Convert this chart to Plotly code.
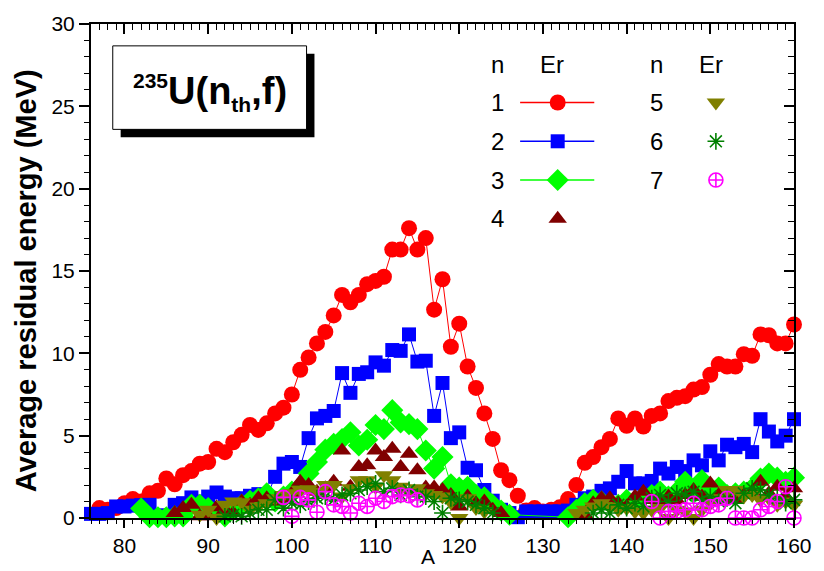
import plotly.graph_objects as go

# ---------------- data ----------------
A1 = list(range(77, 161))
E1 = [0.6, 0.5, 0.6, 0.9, 1.15, 1.0, 1.5, 1.65, 2.4, 2.05,
      2.6, 2.85, 3.3, 3.4, 4.2, 4.0, 4.6, 5.05, 5.65, 5.35,
      5.75, 6.35, 6.7, 7.5, 9.0, 9.75, 10.6, 11.3, 12.3, 13.55,
      13.1, 13.55, 14.2, 14.4, 14.65, 16.3, 16.3, 17.6, 16.3, 17.0,
      12.65, 14.5, 10.4, 11.8, 9.2, 7.9, 6.35, 4.8, 2.9, 2.3,
      1.35, 0.45, 0.6, 0.4, 0.5, 0.65, 1.15, 2.0, 3.35, 3.7,
      4.3, 4.8, 6.05, 5.6, 6.05, 5.55, 6.2, 6.35, 7.1, 7.3,
      7.4, 7.8, 7.95, 8.7, 9.35, 9.2, 9.2, 9.95, 9.85, 11.15,
      11.1, 10.6, 10.6, 11.75]

A2 = list(range(76, 161))
E2 = [0.25, 0.25, 0.3, 0.7, 0.7, 0.75, 0.78, 0.8, 0.15, 0.15,
      0.8, 0.9, 1.25, 1.0, 1.3, 1.55, 1.3, 1.2, 1.2, 1.35,
      1.45, 1.3, 2.5, 3.3, 3.4, 3.1, 4.85, 6.05, 6.2, 6.5,
      8.8, 7.6, 8.75, 8.85, 9.45, 9.25, 10.2, 10.15, 11.15, 9.5,
      9.55, 6.2, 8.2, 4.85, 5.2, 3.05, 2.9, 1.7, 1.05, 0.5,
      0.3, 0.05, 0.4, 0.4, 0.4, 0.4, 0.4, 0.45, 0.8, 1.2,
      1.3, 1.65, 1.8, 2.2, 2.85, 2.1, 2.1, 2.25, 3.0, 2.7,
      3.1, 2.85, 3.5, 3.2, 4.05, 3.5, 4.45, 4.3, 4.5, 4.0,
      6.0, 5.25, 4.65, 5.0, 6.0]

A3 = list(range(82, 127)) + list(range(133, 161))
E3 = [0.58, 0.05, 0.05, 0.05, 0.1, 0.1, 0.8, 0.8, 0.6, 0.3,
      0.1, 0.5, 0.8, 1.05, 1.2, 1.5, 1.0, 1.3, 1.6, 1.9,
      2.7, 3.4, 4.15, 4.5, 4.8, 5.2, 4.4, 4.75, 5.65, 5.4,
      6.55, 5.8, 5.7, 5.4, 4.1, 3.0, 3.7, 2.05, 1.85, 1.9,
      1.4, 1.25, 0.8, 0.45, 0.2,
      0.05, 0.5, 0.9, 1.1, 1.0, 0.9, 0.8, 1.1, 1.0, 1.3,
      1.4, 1.6, 1.3, 1.6, 2.2, 1.5, 2.3, 1.6, 1.85, 1.4,
      1.5, 1.6, 1.8, 2.4, 2.7, 2.45, 2.2, 2.45]

A4 = list(range(86, 126)) + list(range(135, 161))
E4 = [0.3, 0.6, 0.8, 0.1, 0.1, 0.65, 0.5, 0.3, 1.0, 0.8,
      1.2, 1.2, 1.0, 1.2, 1.5, 2.2, 2.0, 1.6, 1.8, 2.2,
      4.1, 1.9, 3.1, 3.2, 4.1, 3.7, 4.2, 3.1, 3.9, 2.9,
      1.85, 1.85, 1.7, 1.4, 0.7, 1.3, 0.9, 1.0, 0.5, 0.3,
      0.2, 0.9, 1.2, 1.2, 0.9, 0.7, 1.3, 1.6, 1.1, 0.9,
      1.3, 1.1, 1.4, 1.7, 1.3, 2.1, 1.4, 1.2, 1.1, 1.4,
      1.6, 2.2, 1.5, 1.9, 1.3, 1.8]

A5 = list(range(89, 124)) + list(range(134, 161))
E5 = [0.2, 0.5, 0.0, 0.8, 1.0, 0.95, 0.5, 0.7, 0.9, 1.2,
      1.4, 1.5, 1.7, 1.75, 1.6, 2.0, 2.0, 1.3, 1.8, 2.3,
      2.3, 1.9, 2.6, 2.3, 1.9, 1.6, 1.8, 1.5, 1.4, 1.3,
      0.95, 0.0, 1.2, 0.6, 0.4,
      0.3, 0.5, 0.7, 0.9, 0.7, 0.5, 0.6, 0.4, 0.3, 0.5,
      0.6, 0.0, 0.5, 0.4, 0.0, 0.5, 0.9, 1.2, 1.7, 1.7,
      1.3, 1.4, 1.1, 1.2, 0.8, 1.0, 0.8]

A6 = list(range(92, 125)) + list(range(136, 161))
E6 = [0.1, 0.2, 0.1, 0.3, 0.5, 0.5, 1.1, 0.6, 0.9, 0.8,
      1.0, 1.2, 1.3, 1.1, 1.4, 1.5, 1.7, 1.9, 2.1, 1.6,
      1.8, 1.4, 1.7, 1.3, 1.3, 1.0, 0.3, 1.2, 1.1, 1.0,
      0.8, 0.6, 0.3,
      0.3, 0.5, 0.3, 0.8, 0.6, 0.9, 0.7, 1.2, 1.4, 1.0,
      1.5, 1.4, 1.6, 1.1, 1.3, 1.0, 1.2, 0.9, 1.5, 1.8,
      1.7, 1.4, 1.2, 0.9, 1.1]

A7 = list(range(99, 116)) + list(range(143, 161))
E7 = [1.25, 0.1, 1.25, 1.1, 0.35, 1.6, 0.8, 0.7, 0.3, 0.9,
      0.7, 1.2, 1.0, 1.3, 1.4, 1.35, 1.1,
      1.0, 0.0, 0.4, 0.4, 0.5, 0.9, 0.5, 0.7, 0.8, 1.2,
      0.0, 0.0, 0.0, 0.5, 0.7, 1.0, 1.9, 0.0]

X_TICKS = [80, 90, 100, 110, 120, 130, 140, 150, 160]
Y_TICKS = [0, 5, 10, 15, 20, 25, 30]
X_RANGE = [76, 160]
Y_RANGE = [0, 30]

SERIES = [
    # n, A, E, colour, symbol, size, line?
    ("1", A1, E1, "#FF0000", "circle", 16, True),
    ("2", A2, E2, "#0000FF", "square", 14, True),
    ("3", A3, E3, "#00FF00", "diamond", 17, True),
    ("4", A4, E4, "#800000", "triangle-up", 16, False),
    ("5", A5, E5, "#808000", "triangle-down", 16, False),
    ("6", A6, E6, "#008000", "asterisk-open", 14, False),
    ("7", A7, E7, "#FF00FF", "circle-cross-open", 14, False),
]

FONT = "Liberation Sans, Arial, sans-serif"

fig = go.Figure()

for n, xs, ys, col, sym, size, has_line in SERIES:
    open_sym = sym.endswith("open")
    fig.add_trace(go.Scatter(
        x=xs, y=ys,
        mode="lines+markers" if has_line else "markers",
        line=dict(color=col, width=1),
        marker=dict(symbol=sym, size=size, color=col,
                    line=dict(color=col, width=1.6 if open_sym else 0)),
        cliponaxis=False, showlegend=False, name=n,
    ))

# dummy trace for the mirrored (inside-tick) top/right axes
fig.add_trace(go.Scatter(x=[None], y=[None], xaxis="x2", yaxis="y2",
                         showlegend=False, hoverinfo="skip"))


def px2x(px):
    return (px - 91) / 711.0


def px2y(py):
    return (518 - py) / 497.0


# ---------------- custom legend (overlay axes in paper units) ----------------
LEG_ROWS = [px2y(100), px2y(139), px2y(178), px2y(217)]
HEAD_Y = px2y(62)
col1_n, col1_e, col1_key, col1_l0, col1_l1 = px2x(502), px2x(557), px2x(563), px2x(525), px2x(600)
col2_n, col2_e, col2_key = px2x(663), px2x(718), px2x(723)
annotations = []
for xh, xe in [(col1_n, col1_e), (col2_n, col2_e)]:
    annotations.append(dict(x=xh, y=HEAD_Y, text="n"))
    annotations.append(dict(x=xe, y=HEAD_Y, text="Er"))

for i, (n, xs, ys, col, sym, size, has_line) in enumerate(SERIES):
    if i < 4:
        row, xn, xk = LEG_ROWS[i], col1_n, col1_key
    else:
        row, xn, xk = LEG_ROWS[i - 4], col2_n, col2_key
    annotations.append(dict(x=xn, y=row, text=n))
    open_sym = sym.endswith("open")
    if has_line:
        fig.add_trace(go.Scatter(x=[col1_l0, col1_l1], y=[row, row], mode="lines",
                                 line=dict(color=col, width=1.5), xaxis="x3", yaxis="y3",
                                 showlegend=False, hoverinfo="skip"))
    fig.add_trace(go.Scatter(x=[xk], y=[row], mode="markers",
                             marker=dict(symbol=sym, size=size, color=col,
                                         line=dict(color=col, width=1.6 if open_sym else 0)),
                             xaxis="x3", yaxis="y3", showlegend=False, hoverinfo="skip"))

for a in annotations:
    a.update(xref="paper", yref="paper", showarrow=False,
             font=dict(family=FONT, size=24, color="black"),
             xanchor="center", yanchor="middle")

# axis titles
annotations.append(dict(x=px2x(432), y=px2y(557), xref="paper", yref="paper", showarrow=False,
                        text="A", font=dict(family=FONT, size=21, color="black"),
                        xanchor="center", yanchor="middle"))
annotations.append(dict(x=px2x(26), y=px2y(279), xref="paper", yref="paper", showarrow=False,
                        text="<b>Average residual energy (MeV)</b>", textangle=-90,
                        font=dict(family=FONT, size=29, color="black"),
                        xanchor="center", yanchor="middle"))

# label box text
annotations.append(dict(x=px2x(211), y=px2y(90), xref="paper", yref="paper", showarrow=False,
                        text="<b><sup><span style='font-size:21px'>235</span></sup>U(n"
                             "<sub><span style='font-size:21px'>th</span></sub>,f)</b>",
                        font=dict(family=FONT, size=38, color="black"),
                        xanchor="center", yanchor="middle"))

shapes = [
    dict(type="rect", xref="paper", yref="paper",
         x0=px2x(121), x1=px2x(317), y0=px2y(135), y1=px2y(51),
         fillcolor="black", line=dict(width=0), layer="above"),
    dict(type="rect", xref="paper", yref="paper",
         x0=px2x(113), x1=px2x(309), y0=px2y(127), y1=px2y(43),
         fillcolor="white", line=dict(color="black", width=1), layer="above"),
]

axis_common = dict(showgrid=False, zeroline=False, linecolor="black", linewidth=2,
                   tickcolor="black", tickwidth=1.5,
                   tickfont=dict(family=FONT, size=21, color="black"))

fig.update_layout(
    width=824, height=571,
    margin=dict(l=91, r=22, t=21, b=53),
    paper_bgcolor="white", plot_bgcolor="white",
    font=dict(family=FONT, color="black"),
    xaxis=dict(range=X_RANGE, tickvals=X_TICKS, ticks="outside", ticklen=8,
               showline=True, mirror=True,
               minor=dict(dtick=1, tick0=0, ticks="outside", ticklen=4, tickcolor="black", tickwidth=1.2),
               **axis_common),
    yaxis=dict(range=Y_RANGE, tickvals=Y_TICKS, ticks="outside", ticklen=10,
               showline=True, mirror=True,
               minor=dict(dtick=1, tick0=0, ticks="outside", ticklen=5, tickcolor="black", tickwidth=1.2),
               **axis_common),
    xaxis2=dict(range=X_RANGE, overlaying="x", side="top", anchor="y2", tickvals=X_TICKS,
                ticks="inside", ticklen=10, showticklabels=False, showline=False,
                minor=dict(dtick=1, tick0=0, ticks="inside", ticklen=6, tickcolor="black", tickwidth=1.2),
                **axis_common),
    yaxis2=dict(range=Y_RANGE, overlaying="y", side="right", anchor="x2", tickvals=Y_TICKS,
                ticks="inside", ticklen=10, showticklabels=False, showline=False,
                minor=dict(dtick=1, tick0=0, ticks="inside", ticklen=6, tickcolor="black", tickwidth=1.2),
                **axis_common),
    xaxis3=dict(range=[0, 1], overlaying="x", visible=False, anchor="y3"),
    yaxis3=dict(range=[0, 1], overlaying="y", visible=False, anchor="x3"),
    annotations=annotations,
    shapes=shapes,
    showlegend=False,
)

fig.write_html("out.html")
